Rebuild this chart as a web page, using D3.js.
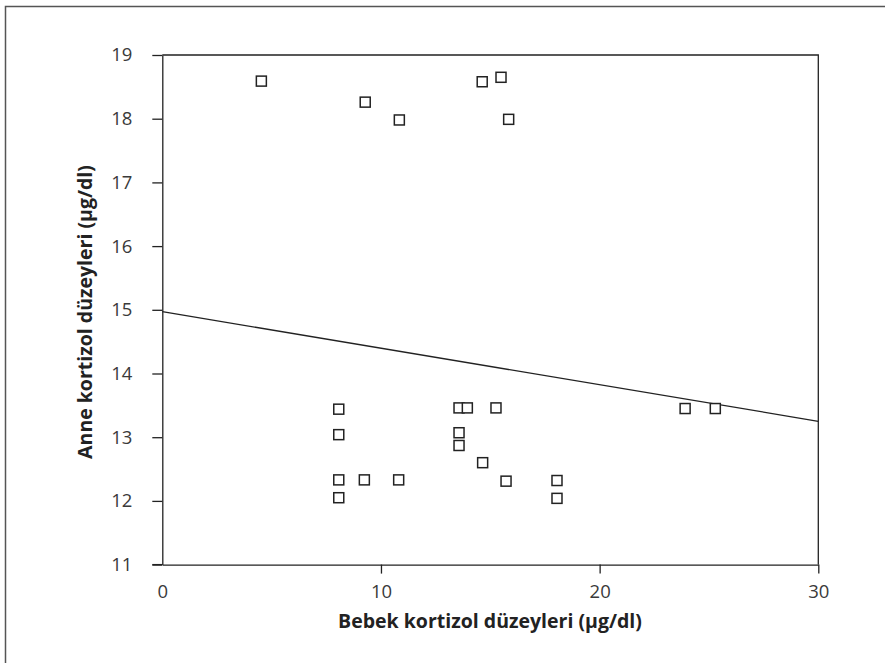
<!DOCTYPE html>
<html>
<head>
<meta charset="utf-8">
<script src="https://cdn.jsdelivr.net/npm/d3@7"></script>
<style>
  body { margin: 0; background: #fff; }
  svg { display: block; font-family: "Open Sans", sans-serif; }
</style>
</head>
<body>
<svg id="chart"></svg>
<script>
// data
var bebek = [4.53, 9.28, 10.84, 14.63, 15.49, 15.84,
             8.07, 8.07, 8.07, 8.07, 9.24, 10.81,
             13.57, 13.95, 15.26, 13.57, 13.57, 14.65, 15.72, 18.05, 18.05, 23.91, 25.29];
var anne  = [18.59, 18.26, 17.98, 18.58, 18.65, 17.99,
             13.44, 13.04, 12.33, 12.05, 12.33, 12.33,
             13.46, 13.46, 13.46, 13.07, 12.87, 12.60, 12.31, 12.32, 12.04, 13.45, 13.45];
var fitX = [0, 30];
var fitY = [14.97, 13.25];
var xTicks = [0, 10, 20, 30];
var yTicks = [11, 12, 13, 14, 15, 16, 17, 18, 19];
var xTitle = "Bebek kortizol düzeyleri (µg/dl)";
var yTitle = "Anne kortizol düzeyleri (µg/dl)";

var width = 885, height = 663;
var svg = d3.select("#chart").attr("width", width).attr("height", height);

// outer frame (only top and left visible)
svg.append("path")
    .attr("d", "M5.5," + height + "V6.5H" + width)
    .attr("fill", "none").attr("stroke", "#555").attr("stroke-width", 1.5);

var plotL = 162.3, plotR = 818.3, plotT = 55, plotB = 564.6;
var x = d3.scaleLinear().domain([0, 30]).range([plotL, plotR]);
var y = d3.scaleLinear().domain([11, 19]).range([plotB, plotT]);

// plot box
svg.append("path")
    .attr("d", "M" + plotL + "," + plotT + "H" + plotR + "V" + plotB)
    .attr("fill", "none").attr("stroke", "#222").attr("stroke-width", 1.3);

var yAxis = svg.append("g")
    .attr("transform", "translate(" + plotL + ",0)")
    .call(d3.axisLeft(y).tickValues(yTicks).tickSize(10).tickPadding(20).tickSizeOuter(0));
var xAxis = svg.append("g")
    .attr("transform", "translate(0," + plotB + ")")
    .call(d3.axisBottom(x).tickValues(xTicks).tickSize(9).tickPadding(11).tickSizeOuter(0));
xAxis.selectAll(".tick").filter(d => d == 0).select("line").remove();

[xAxis, yAxis].forEach(function(a) {
  a.attr("font-size", null).attr("font-family", null);
  a.select(".domain").attr("stroke", "#222").attr("stroke-width", 1.3);
  a.selectAll(".tick line").attr("stroke", "#222").attr("stroke-width", 1.3);
  a.selectAll(".tick text").attr("fill", "#3a3a3a").style("font-size", "18.5px");
});
// extend bottom line left to the 11 tick
svg.append("line")
    .attr("x1", plotL - 10).attr("x2", plotL).attr("y1", plotB).attr("y2", plotB)
    .attr("stroke", "#222").attr("stroke-width", 1.3);

// regression line
svg.append("line")
    .attr("x1", x(fitX[0])).attr("y1", y(fitY[0]))
    .attr("x2", x(fitX[1])).attr("y2", y(fitY[1]))
    .attr("stroke", "#222").attr("stroke-width", 1.3);

// points
var s = 10;
svg.append("g").selectAll("rect")
    .data(d3.range(bebek.length))
    .enter().append("rect")
    .attr("x", i => x(bebek[i]) - s / 2)
    .attr("y", i => y(anne[i]) - s / 2)
    .attr("width", s).attr("height", s)
    .attr("fill", "#fff").attr("stroke", "#222").attr("stroke-width", 1.5);

// titles
svg.append("text")
    .attr("x", 490).attr("y", 628)
    .attr("text-anchor", "middle")
    .style("font-size", "19.5px").style("font-weight", "bold").attr("fill", "#222")
    .text(xTitle);
svg.append("text")
    .attr("transform", "translate(92,312) rotate(-90)")
    .attr("text-anchor", "middle")
    .style("font-size", "19.5px").style("font-weight", "bold").attr("fill", "#222")
    .text(yTitle);
</script>
</body>
</html>
